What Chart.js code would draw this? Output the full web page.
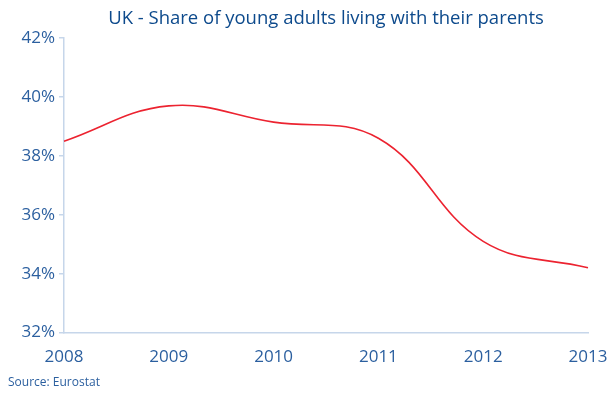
<!DOCTYPE html>
<html>
<head>
<meta charset="utf-8">
<script src="https://cdn.jsdelivr.net/npm/chart.js@4/dist/chart.umd.min.js"></script>
<style>
  html, body { margin: 0; padding: 0; background: #fff; }
  #wrap { position: relative; width: 609px; height: 396px; }
</style>
</head>
<body>
<div id="wrap"><canvas id="shareChart" width="609" height="396"></canvas></div>
<script>
let years = ['2008', '2009', '2010', '2011', '2012', '2013'];
let shareLiving = [38.5, 39.7, 39.15, 38.6, 35.1, 34.2];
let yTicks = [32, 34, 36, 38, 40, 42];

let blueText = '#2b5f9f';
let axisBlue = '#c6d6ea';
let fontFamily = '"Open Sans", "Noto Sans", sans-serif';

// footnote under the axis
let sourceNote = {
    id: 'sourceNote',
    afterDraw(chart) {
        let ctx = chart.ctx;
        ctx.save();
        ctx.font = '12px ' + fontFamily;
        ctx.fillStyle = blueText;
        ctx.textBaseline = 'middle';
        ctx.textAlign = 'left';
        ctx.fillText('Source: Eurostat', 8, 383);
        ctx.restore();
    }
};

var ctx = document.getElementById('shareChart').getContext('2d');
var chart = new Chart(ctx, {
    type: 'line',
    data: {
        labels: years,
        datasets: [{
            data: shareLiving,
            borderColor: '#ec2330',
            borderWidth: 1.6,
            pointRadius: 0,
            tension: 0.4,
            fill: false
        }]
    },
    options: {
        responsive: false,
        animation: false,
        layout: {
            padding: { left: 4, right: 21, top: 2, bottom: 23 }
        },
        plugins: {
            legend: { display: false },
            tooltip: { enabled: false },
            title: {
                display: true,
                fullSize: false,
                text: 'UK - Share of young adults living with their parents',
                color: '#0d4a8c',
                font: { family: fontFamily, size: 18.5, weight: '500' },
                padding: { top: 6, bottom: 8 }
            }
        },
        scales: {
            x: {
                offset: false,
                afterFit: function (scale) {
                    // let the last year label hang past the plot edge
                    scale.paddingRight = 0;
                    scale.paddingLeft = 0;
                },
                grid: { display: false },
                border: { color: axisBlue, width: 1.5 },
                ticks: {
                    color: blueText,
                    font: { family: fontFamily, size: 17 },
                    padding: 6,
                    maxRotation: 0
                }
            },
            y: {
                min: 32,
                max: 42,
                afterBuildTicks: function (scale) {
                    scale.ticks = yTicks.map(v => ({ value: v }));
                },
                afterFit: function (scale) {
                    scale.width = 60;
                },
                grid: {
                    drawOnChartArea: false,
                    color: axisBlue,
                    tickLength: 5,
                    lineWidth: 1.5
                },
                border: { color: axisBlue, width: 1.5 },
                ticks: {
                    color: blueText,
                    font: { family: fontFamily, size: 17 },
                    padding: 4,
                    callback: function (v) { return v + '%'; }
                }
            }
        }
    },
    plugins: [sourceNote]
});
</script>
</body>
</html>
